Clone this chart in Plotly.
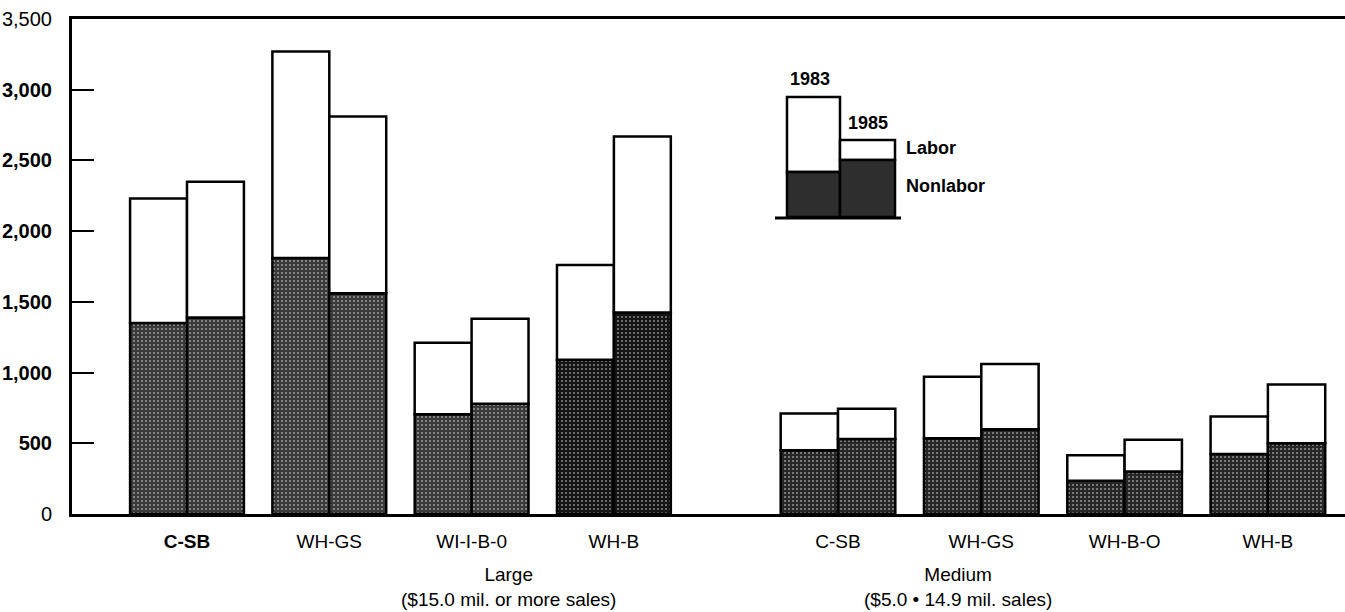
import plotly.graph_objects as go

# ---------------- data ----------------
large_categories = ["C-SB", "WH-GS", "WI-I-B-0", "WH-B"]
large_tick_labels = ["<b>C-SB</b>", "WH-GS", "WI-I-B-0", "WH-B"]
medium_categories = ["C-SB", "WH-GS", "WH-B-O", "WH-B"]
medium_tick_labels = ["C-SB", "WH-GS", "WH-B-O", "WH-B"]

large_nonlabor_1983 = [1350, 1810, 705, 1090]
large_labor_1983 = [880, 1460, 505, 670]
large_nonlabor_1985 = [1390, 1560, 780, 1425]
large_labor_1985 = [960, 1250, 600, 1245]

medium_nonlabor_1983 = [450, 535, 235, 425]
medium_labor_1983 = [260, 435, 180, 265]
medium_nonlabor_1985 = [530, 600, 300, 500]
medium_labor_1985 = [215, 460, 225, 415]

y_tick_values = [0, 500, 1000, 1500, 2000, 2500, 3000, 3500]
y_tick_labels = ["0", "<b>500</b>", "<b>1,000</b>", "<b>1,500</b>", "<b>2,000</b>",
                 "<b>2,500</b>", "<b>3,000</b>", "3,500"]

# ---------------- styles ----------------
FONT = "Liberation Sans, Arial, Helvetica, sans-serif"
W, H = 1345, 612
L, R, T, B = 72, 0, 19, 98
PW, PH = W - L - R, H - T - B
large_dark = ["#3a3a3a", "#3a3a3a", "#3a3a3a", "#141414"]
medium_dark = ["#262626", "#262626", "#262626", "#262626"]
OUTLINE = dict(color="black", width=2.5)


def px_x(p):
    return (p - L) / PW


def px_y(p):
    return (H - B - p) / PH


def stipple(colors):
    return dict(color=colors, line=OUTLINE,
                pattern=dict(shape=".", bgcolor=colors, fgcolor="#9c9c9c", size=4,
                             solidity=0.2, fillmode="overlay"))


fig = go.Figure()


def add_group(cats, nl83, lb83, nl85, lb85, dark, xaxis):
    fig.add_trace(go.Bar(x=cats, y=nl83, offsetgroup="1983", marker=stipple(dark),
                         xaxis=xaxis, yaxis="y", showlegend=False))
    fig.add_trace(go.Bar(x=cats, y=lb83, base=nl83, offsetgroup="1983",
                         marker=dict(color="white", line=OUTLINE),
                         xaxis=xaxis, yaxis="y", showlegend=False))
    fig.add_trace(go.Bar(x=cats, y=nl85, offsetgroup="1985", marker=stipple(dark),
                         xaxis=xaxis, yaxis="y", showlegend=False))
    fig.add_trace(go.Bar(x=cats, y=lb85, base=nl85, offsetgroup="1985",
                         marker=dict(color="white", line=OUTLINE),
                         xaxis=xaxis, yaxis="y", showlegend=False))


add_group(large_categories, large_nonlabor_1983, large_labor_1983,
          large_nonlabor_1985, large_labor_1985, large_dark, "x")
add_group(medium_categories, medium_nonlabor_1983, medium_labor_1983,
          medium_nonlabor_1985, medium_labor_1985, medium_dark, "x2")

# axis geometry (pixels)
split_px = 727
large_unit, large_first = 142.3, 187
medium_unit, medium_first = 143.3, 838
large_range = [-(large_first - L) / large_unit, (split_px - large_first) / large_unit]
medium_range = [-(medium_first - split_px) / medium_unit, (W - R - medium_first) / medium_unit]

xcommon = dict(type="category", showline=True, linecolor="black", linewidth=3,
               mirror=True, ticks="", showgrid=False, zeroline=False,
               tickfont=dict(family=FONT, size=19, color="black"),
               ticklabelstandoff=8, fixedrange=True)

fig.update_layout(
    width=W, height=H,
    margin=dict(l=L, r=R, t=T, b=B, pad=0),
    paper_bgcolor="white", plot_bgcolor="white",
    barmode="group", bargap=0.2, bargroupgap=0,
    font=dict(family=FONT, size=19, color="black"),
    xaxis=dict(domain=[0, px_x(split_px)], range=large_range,
               categoryorder="array", categoryarray=large_categories,
               tickvals=large_categories, ticktext=large_tick_labels, anchor="y", **xcommon),
    xaxis2=dict(domain=[px_x(split_px), 1], range=medium_range,
                categoryorder="array", categoryarray=medium_categories,
                tickvals=medium_categories, ticktext=medium_tick_labels, anchor="y", **xcommon),
    yaxis=dict(range=[0, 3500], tickvals=y_tick_values, ticktext=y_tick_labels,
               showline=True, linecolor="black", linewidth=3, ticks="inside",
               ticklen=22, tickwidth=2, tickcolor="black", showgrid=False,
               zeroline=False, tickfont=dict(family=FONT, size=20, color="black"),
               ticklabelstandoff=13, anchor="x", fixedrange=True),
    showlegend=False,
)

# group titles
for txt, cx in [("Large<br>($15.0 mil. or more sales)", 400),
                ("Medium<br>($5.0 \u2022 14.9 mil. sales)", 1053)]:
    fig.add_annotation(x=px_x(cx), y=px_y(587), xref="paper", yref="paper",
                       text=txt, showarrow=False, borderpad=0,
                       font=dict(family=FONT, size=19), align="center", yanchor="middle")

# ---------------- key (legend drawn in the plot area) ----------------
def rect(x0, y0, x1, y1, fill):
    fig.add_shape(type="rect", xref="paper", yref="paper",
                  x0=px_x(x0), x1=px_x(x1), y0=px_y(y1), y1=px_y(y0),
                  fillcolor=fill, line=dict(color="black", width=2.5), layer="above")


rect(787, 97, 840, 172, "white")
rect(787, 172, 840, 217, "#2e2e2e")
rect(840, 140, 895, 160, "white")
rect(840, 160, 895, 217, "#2e2e2e")
fig.add_shape(type="line", xref="paper", yref="paper", x0=px_x(775), x1=px_x(901),
              y0=px_y(218), y1=px_y(218), line=dict(color="black", width=3))

for txt, x, y, anchor in [("<b>1983</b>", 810, 79, "center"), ("<b>1985</b>", 868, 123, "center"),
                          ("<b>Labor</b>", 904, 148, "left"), ("<b>Nonlabor</b>", 904, 186, "left")]:
    fig.add_annotation(x=px_x(x), y=px_y(y), xref="paper", yref="paper", text=txt,
                       showarrow=False, xanchor=anchor, yanchor="middle",
                       font=dict(family=FONT, size=18, color="black"))

fig.write_html("out.html", config={"displayModeBar": False},
               post_script="document.body.style.margin='0';document.body.style.overflow='hidden';")
